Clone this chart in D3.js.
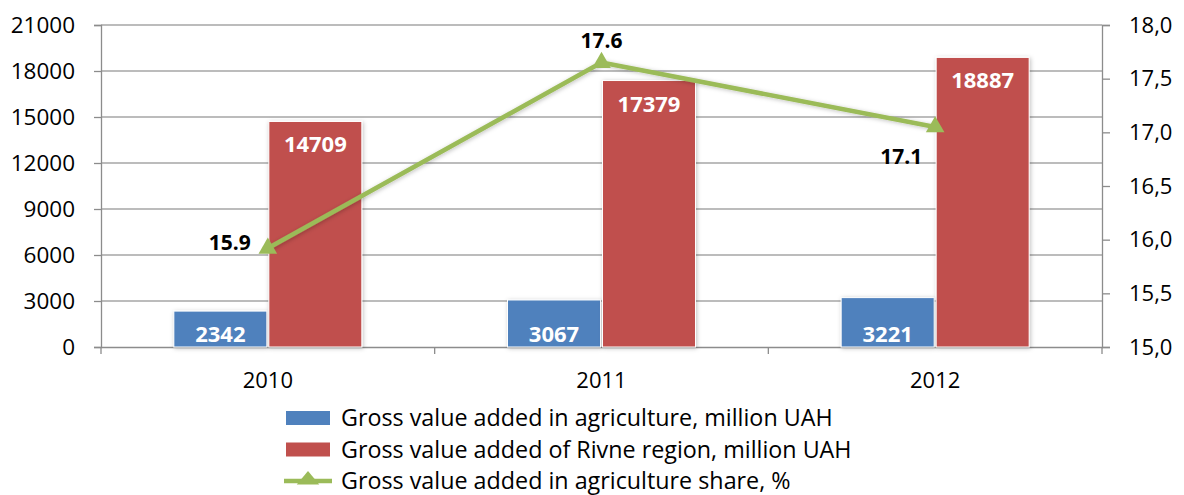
<!DOCTYPE html>
<html>
<head>
<meta charset="utf-8">
<script src="https://cdn.jsdelivr.net/npm/d3@7"></script>
<style>
  body { margin: 0; background: #fff; }
  svg { display: block; font-family: "Open Sans", sans-serif; }
</style>
</head>
<body>
<svg id="chart" width="1184" height="495"></svg>
<script>
var years = ["2010", "2011", "2012"];
var agriValues = [2342, 3067, 3221];
var regionValues = [14709, 17379, 18887];
var shareValues = [15.92, 17.65, 17.05];
var shareLabels = ["15.9", "17.6", "17.1"];
var leftTicks = [0, 3000, 6000, 9000, 12000, 15000, 18000, 21000];
var rightTicks = [15.0, 15.5, 16.0, 16.5, 17.0, 17.5, 18.0];
var legendNames = [
  "Gross value added in agriculture, million UAH",
  "Gross value added of Rivne region, million UAH",
  "Gross value added in agriculture share, %"
];

var svg = d3.select("#chart");
var plotLeft = 101, plotRight = 1102, plotTop = 25, plotBottom = 347;
var fontFam = "'Open Sans', sans-serif";
var axisColor = "#8c8c8c";

var x = d3.scaleBand().domain(years).range([plotLeft, plotRight]);
var y = d3.scaleLinear().domain([0, 21000]).range([plotBottom, plotTop]);
var y2 = d3.scaleLinear().domain([15, 18]).range([plotBottom, plotTop]);
var barW = 93;

var defs = svg.append("defs");
var shadow = defs.append("filter").attr("id", "shadow")
  .attr("x", "-20%").attr("y", "-20%").attr("width", "140%").attr("height", "140%");
shadow.append("feDropShadow").attr("dx", 1).attr("dy", 1).attr("stdDeviation", 2)
  .attr("flood-color", "#000").attr("flood-opacity", 0.25);

// gridlines
svg.append("g").selectAll("line").data(leftTicks.slice(1)).enter().append("line")
  .attr("x1", plotLeft).attr("x2", plotRight)
  .attr("y1", function (d) { return y(d); }).attr("y2", function (d) { return y(d); })
  .attr("stroke", "#a6a6a6").attr("stroke-width", 1.3);

// left axis
var leftAxis = svg.append("g").attr("transform", "translate(" + plotLeft + ",0)")
  .call(d3.axisLeft(y).tickValues(leftTicks).tickSize(7).tickPadding(19)
    .tickFormat(d3.format("d")));
leftAxis.select(".domain").attr("stroke", axisColor).attr("stroke-width", 1.3);
leftAxis.selectAll(".tick line").attr("stroke", axisColor).attr("stroke-width", 1.3);
leftAxis.selectAll("text").attr("font-size", 22.5).attr("fill", "#000")
  .attr("font-family", fontFam);

// right axis
var rightAxis = svg.append("g").attr("transform", "translate(" + plotRight + ",0)")
  .call(d3.axisRight(y2).tickValues(rightTicks).tickSize(8).tickPadding(19)
    .tickFormat(function (d) { return d3.format(".1f")(d).replace(".", ","); }));
rightAxis.select(".domain").attr("stroke", axisColor).attr("stroke-width", 1.3);
rightAxis.selectAll(".tick line").attr("stroke", axisColor).attr("stroke-width", 1.3);
rightAxis.selectAll("text").attr("font-size", 22).attr("fill", "#000")
  .attr("font-family", fontFam);

// bottom axis
var bottomAxis = svg.append("g").attr("transform", "translate(0," + plotBottom + ")")
  .call(d3.axisBottom(x).tickSize(0).tickPadding(25));
bottomAxis.select(".domain").attr("stroke", axisColor).attr("stroke-width", 1.3);
bottomAxis.selectAll("text").attr("font-size", 22).attr("fill", "#000")
  .attr("font-family", fontFam);
// category boundary ticks
var bounds = years.map(function (d) { return x(d); }).concat([plotRight]);
svg.append("g").selectAll("line").data(bounds).enter().append("line")
  .attr("x1", function (d) { return d; }).attr("x2", function (d) { return d; })
  .attr("y1", plotBottom).attr("y2", plotBottom + 7)
  .attr("stroke", axisColor).attr("stroke-width", 1.3);

// bars
var bars = svg.append("g");
bars.selectAll("rect.agri").data(years).enter().append("rect")
  .attr("class", "agri")
  .attr("x", function (d) { return x(d) + x.bandwidth() / 2 - barW - 1; })
  .attr("y", function (d, i) { return y(agriValues[i]); })
  .attr("width", barW)
  .attr("height", function (d, i) { return plotBottom - y(agriValues[i]); })
  .attr("fill", "#4f81bd").attr("stroke", "#fff").attr("stroke-width", 1)
  .attr("filter", "url(#shadow)");
bars.selectAll("rect.region").data(years).enter().append("rect")
  .attr("class", "region")
  .attr("x", function (d) { return x(d) + x.bandwidth() / 2 + 1; })
  .attr("y", function (d, i) { return y(regionValues[i]); })
  .attr("width", barW)
  .attr("height", function (d, i) { return plotBottom - y(regionValues[i]); })
  .attr("fill", "#c0504d").attr("stroke", "#fff").attr("stroke-width", 1)
  .attr("filter", "url(#shadow)");

// bar labels
bars.selectAll("text.agri").data(years).enter().append("text")
  .attr("class", "agri")
  .attr("x", function (d) { return x(d) + x.bandwidth() / 2 - barW / 2 - 1; })
  .attr("y", plotBottom - 5)
  .attr("text-anchor", "middle").attr("font-size", 22).attr("font-weight", "bold")
  .attr("fill", "#fff")
  .text(function (d, i) { return agriValues[i]; });
bars.selectAll("text.region").data(years).enter().append("text")
  .attr("class", "region")
  .attr("x", function (d) { return x(d) + x.bandwidth() / 2 + barW / 2 + 1; })
  .attr("y", function (d, i) { return y(regionValues[i]) + 31; })
  .attr("text-anchor", "middle").attr("font-size", 22).attr("font-weight", "bold")
  .attr("fill", "#fff")
  .text(function (d, i) { return regionValues[i]; });

// share line
var line = d3.line()
  .x(function (d, i) { return x(years[i]) + x.bandwidth() / 2; })
  .y(function (d) { return y2(d); });
svg.append("path").datum(shareValues)
  .attr("d", line).attr("fill", "none")
  .attr("stroke", "#9bbb59").attr("stroke-width", 4.5).attr("stroke-linejoin", "round")
  .attr("filter", "url(#shadow)");
var tri = d3.symbol().type(d3.symbolTriangle).size(150);
svg.append("g").selectAll("path").data(shareValues).enter().append("path")
  .attr("d", tri)
  .attr("transform", function (d, i) {
    return "translate(" + (x(years[i]) + x.bandwidth() / 2) + "," + y2(d) + ")";
  })
  .attr("fill", "#9bbb59");

// share labels
var labelOffsets = [[-38, 2], [0, -15], [-34, 37]];
svg.append("g").selectAll("text").data(shareValues).enter().append("text")
  .attr("x", function (d, i) { return x(years[i]) + x.bandwidth() / 2 + labelOffsets[i][0]; })
  .attr("y", function (d, i) { return y2(d) + labelOffsets[i][1]; })
  .attr("text-anchor", "middle").attr("font-size", 21).attr("font-weight", "bold")
  .attr("fill", "#000")
  .text(function (d, i) { return shareLabels[i]; });

// legend
var legend = svg.append("g");
var legendColors = ["#4f81bd", "#c0504d", "#9bbb59"];
legendNames.forEach(function (name, i) {
  var ly = 418 + i * 31.5;
  if (i < 2) {
    legend.append("rect").attr("x", 286).attr("y", ly - 7).attr("width", 44).attr("height", 14)
      .attr("fill", legendColors[i]);
  } else {
    legend.append("line").attr("x1", 284).attr("x2", 332).attr("y1", ly).attr("y2", ly)
      .attr("stroke", legendColors[i]).attr("stroke-width", 4.5);
    legend.append("path").attr("d", d3.symbol().type(d3.symbolTriangle).size(130))
      .attr("transform", "translate(308," + (ly - 1) + ") scale(1.3,0.9)")
      .attr("fill", legendColors[i]);
  }
  legend.append("text").attr("x", 341).attr("y", ly + 8)
    .attr("font-size", 23.3).attr("fill", "#000")
    .text(name);
});
</script>
</body>
</html>
